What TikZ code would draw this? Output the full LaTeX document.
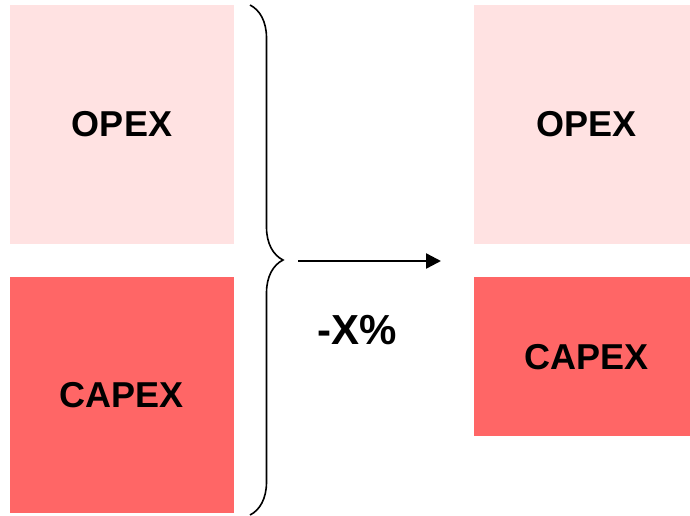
\documentclass[tikz,border=0pt]{standalone}
\usepackage{fontspec}
\setmainfont{Liberation Sans}
\usetikzlibrary{positioning,arrows.meta,decorations.pathreplacing}

\definecolor{opexpink}{RGB}{255,226,226}
\definecolor{capexred}{RGB}{255,102,102}

\begin{document}
\begin{tikzpicture}[x=1pt, y=-1pt, node distance = 33pt,
	costbox/.style = {inner sep=0pt, minimum width=224pt, font=\fontsize{36}{40}\selectfont\bfseries},
	opexbox/.style = {costbox, fill=opexpink, minimum height=239pt},
	capexbox/.style = {costbox, fill=capexred}]
	\useasboundingbox (0,0) rectangle (690,515);

	\node	(opexL)	[opexbox] at (122,124.5)	{OPEX};
	\node	(capexL)	[capexbox, minimum height=236pt, below=of opexL]	{CAPEX};
	\node	(opexR)	[opexbox, right=240pt of opexL]	{OPEX};
	\node	(capexR)	[capexbox, minimum height=159pt, below=of opexR]	{CAPEX};

	% brace round the two left boxes
	\coordinate	(btop)	at (250,5);
	\coordinate	(bbot)	at (250,515);
	\draw [line width=1.6pt, decorate, decoration={brace, amplitude=33pt}]
		(btop) -- (bbot);

	\coordinate	(from)	at (298,261);
	\coordinate	(to)	at (441,261);
	\draw [line width=2.4pt, -{Triangle[length=15pt, width=15pt]}] (from) -- (to);
	\node	(cut)	at (357,330)	{\fontsize{42}{46}\selectfont\bfseries -X\%};
\end{tikzpicture}
\end{document}
